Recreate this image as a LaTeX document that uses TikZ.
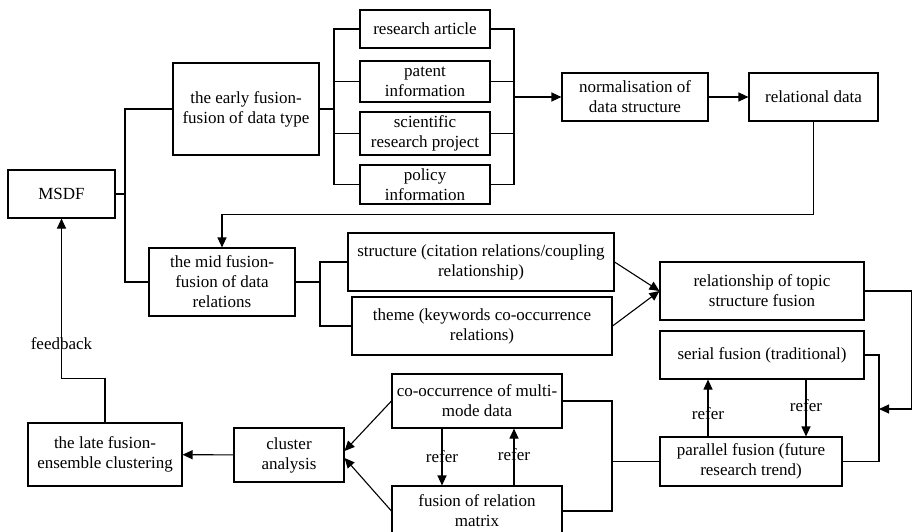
\documentclass[tikz,border=0pt]{standalone}
\usepackage{fontspec}
\setmainfont{Liberation Serif}
\usetikzlibrary{positioning,arrows.meta}

\begin{document}
\begin{tikzpicture}[x=1pt, y=-1pt, line width=1.1pt, >={Triangle[length=10pt,width=9pt]},
    box/.style={draw, align=center, inner sep=2pt, font=\fontsize{17}{20}\selectfont},
    lbl/.style={font=\fontsize{17}{20}\selectfont, inner sep=0pt}]

    \useasboundingbox (0,0) rectangle (912,532);

    \node[box, minimum width=107pt, minimum height=48pt] (msdf) at (61.5,194) {MSDF};
    \node[box, minimum width=146pt, minimum height=92pt] (early) at (246,109) {the early fusion-\\fusion of data type};
    \node[box, minimum width=130pt, minimum height=38pt] (art) at (425,29) {research article};
    \node[box, minimum width=130pt, minimum height=41pt] (pat) at (425,81.5) {patent\\information};
    \node[box, minimum width=130pt, minimum height=43pt] (sci) at (425,133.5) {scientific\\research project};
    \node[box, minimum width=130pt, minimum height=39pt] (pol) at (425,184.5) {policy\\information};
    \node[box, minimum width=146pt, minimum height=48pt] (norm) at (635,97) {normalisation of\\data structure};
    \node[box, minimum width=129pt, minimum height=48pt] (rel) at (813.5,97) {relational data};

    \node[box, minimum width=146pt, minimum height=68pt] (mid) at (222,282) {the mid fusion-\\fusion of data\\relations};
    \node[box, minimum width=266pt, minimum height=58pt] (struc) at (481,262) {structure (citation relations/coupling\\relationship)};
    \node[box, minimum width=260pt, minimum height=58pt] (theme) at (482,326) {theme (keywords co-occurrence\\relations)};
    \node[box, minimum width=204pt, minimum height=58pt] (topic) at (762,291) {relationship of topic\\structure fusion};
    \node[box, minimum width=204pt, minimum height=48pt] (serial) at (762,355) {serial fusion (traditional)};
    \node[box, minimum width=182pt, minimum height=49pt] (para) at (751,461.5) {parallel fusion (future\\research trend)};

    \node[box, minimum width=170pt, minimum height=54pt] (cooc) at (477,401) {co-occurrence of multi-\\mode data};
    \node[box, minimum width=170pt, minimum height=50pt] (matrix) at (477,511) {fusion of relation\\matrix};
    \node[box, minimum width=110pt, minimum height=54pt] (clus) at (289,455) {cluster\\analysis};
    \node[box, minimum width=154pt, minimum height=63pt] (late) at (105,454.5) {the late fusion-\\ensemble clustering};

    \coordinate (lb) at (125,194);
    \coordinate (sl) at (334,109);
    \coordinate (sr) at (514,97);
    \coordinate (ml) at (320,282);
    \coordinate (sb) at (879,409);
    \coordinate (pl) at (612,461.5);

    \draw (msdf.east) -- (lb);
    \draw (early.west) -| (lb) |- (mid.west);

    \draw (early.east) -- (sl);
    \draw (art.west) -| (sl) |- (pol.west);
    \draw (pat.west) -- (pat.west -| sl);
    \draw (sci.west) -- (sci.west -| sl);
    \draw (art.east) -| (sr) |- (pol.east);
    \draw (pat.east) -- (pat.east -| sr);
    \draw (sci.east) -- (sci.east -| sr);
    \draw[->] (sr) -- (norm.west);
    \draw[->] (norm) -- (rel);
    \draw[->] (rel.south) |- ([yshift=33pt]mid.north) -- (mid.north);

    \draw (mid.east) -- (ml);
    \draw (struc.west) -| (ml) |- (theme.west);
    \draw[->] (struc.east) -- (topic.west);
    \draw[->] (theme.east) -- (topic.west);

    \draw[->] (topic.east) -- ++(47,0) |- (sb);
    \draw (serial.east) -| (sb) |- (para.east);
    \draw[->] ([xshift=-43pt]para.north) -- ([xshift=-43pt]para.north |- serial.south)
        node[lbl, pos=0.4] {refer};
    \draw[->] ([xshift=44pt]serial.south) -- ([xshift=44pt]serial.south |- para.north)
        node[lbl, pos=0.45] {refer};

    \draw (para.west) -- (pl);
    \draw (cooc.east) -| (pl) |- (matrix.east);
    \draw[->] ([xshift=-35pt]cooc.south) -- ([xshift=-35pt]cooc.south |- matrix.north)
        node[lbl, midway] {refer};
    \draw[->] ([xshift=37pt]matrix.north) -- ([xshift=37pt]matrix.north |- cooc.south)
        node[lbl, pos=0.55] {refer};

    \draw[->] (cooc.west) -- ([yshift=4pt]clus.east);
    \draw[->] (matrix.west) -- ([yshift=-3pt]clus.east);
    \draw[->] (clus) -- (late);
    \draw[->] (late.north) |- ([yshift=-160pt]msdf.south) -- (msdf.south)
        node[lbl, pos=0.22] {feedback};

\end{tikzpicture}
\end{document}
